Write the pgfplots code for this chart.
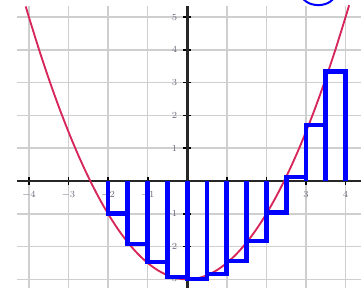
\documentclass[border=0pt]{standalone}
\usepackage{pgfplots}
\pgfplotsset{compat=1.18}
\definecolor{curvecol}{RGB}{214,38,90}
\definecolor{labcol}{RGB}{105,105,125}
\definecolor{rectblue}{RGB}{0,0,255}
\begin{document}
\begin{tikzpicture}
\begin{axis}[
  x=29.7pt, y=24.6pt,
  xmin=-4.3, xmax=4.39, ymin=-3.27, ymax=5.34,
  axis lines=middle,
  axis line style={line width=2.2pt, black!85, -},
  xtick={-4,-3,-2,-1,1,2,3,4},
  ytick={-3,-2,-1,1,2,3,4,5},
  grid=major,
  grid style={gray!38, line width=1.1pt},
  tick align=center,
  major tick length=6pt,
  tick style={line width=1.3pt, black},
  tick label style={font=\fontsize{7}{8}\selectfont, text=labcol},
  xticklabel style={yshift=-1pt},
  yticklabel style={xshift=-1pt},
  clip=false,
  set layers,
]
\addplot[curvecol, line width=1.4pt, smooth] coordinates {
(-4.08,5.323) (-4,5) (-3.75,4.031) (-3.5,3.125) (-3.25,2.281) (-3,1.5)
(-2.75,0.781) (-2.5,0.125) (-2.25,-0.469) (-2,-1) (-1.75,-1.469)
(-1.5,-1.875) (-1.25,-2.219) (-1,-2.5) (-0.75,-2.719) (-0.5,-2.875)
(-0.25,-2.969) (0,-3) (0.25,-2.969) (0.5,-2.875) (0.75,-2.719) (1,-2.5)
(1.25,-2.219) (1.5,-1.875) (1.75,-1.469) (2,-1) (2.25,-0.469) (2.5,0.125)
(2.75,0.781) (3,1.5) (3.25,2.281) (3.5,3.125) (3.75,4.031) (4,5) (4.09,5.36)
};
% tops of the left-endpoint rectangles
\addplot[on layer=axis foreground, const plot, draw=rectblue, line width=3.6pt, line join=miter, line cap=rect] coordinates {
(-2,-1.0) (-1.5,-1.92) (-1,-2.47) (-0.5,-2.93) (0,-2.99) (0.5,-2.84)
(1,-2.44) (1.5,-1.83) (2,-0.95) (2.5,0.12) (3,1.71) (3.5,3.35) (4,3.35)
};
% vertical sides of the rectangles
\addplot[on layer=axis foreground, ycomb, draw=rectblue, line width=3.6pt, mark=none] coordinates {
(-2,-1.0) (-1.5,-1.92) (-1,-2.47) (-0.5,-2.93) (0,-2.99) (0.5,-2.99)
(1,-2.84) (1.5,-2.44) (2,-1.83) (2.5,-0.95) (3,1.71) (3.5,3.35) (4,3.35)
};
\draw[rectblue, line width=1.5pt] (axis cs:3.31,5.73) ellipse [x radius=12.75pt, y radius=9pt];
\coordinate (bl) at (axis cs:-4.73,-3.27);
\coordinate (tr) at (axis cs:4.39,5.52);
\end{axis}
\pgfresetboundingbox
\useasboundingbox (bl) rectangle (tr);
\end{tikzpicture}
\end{document}
